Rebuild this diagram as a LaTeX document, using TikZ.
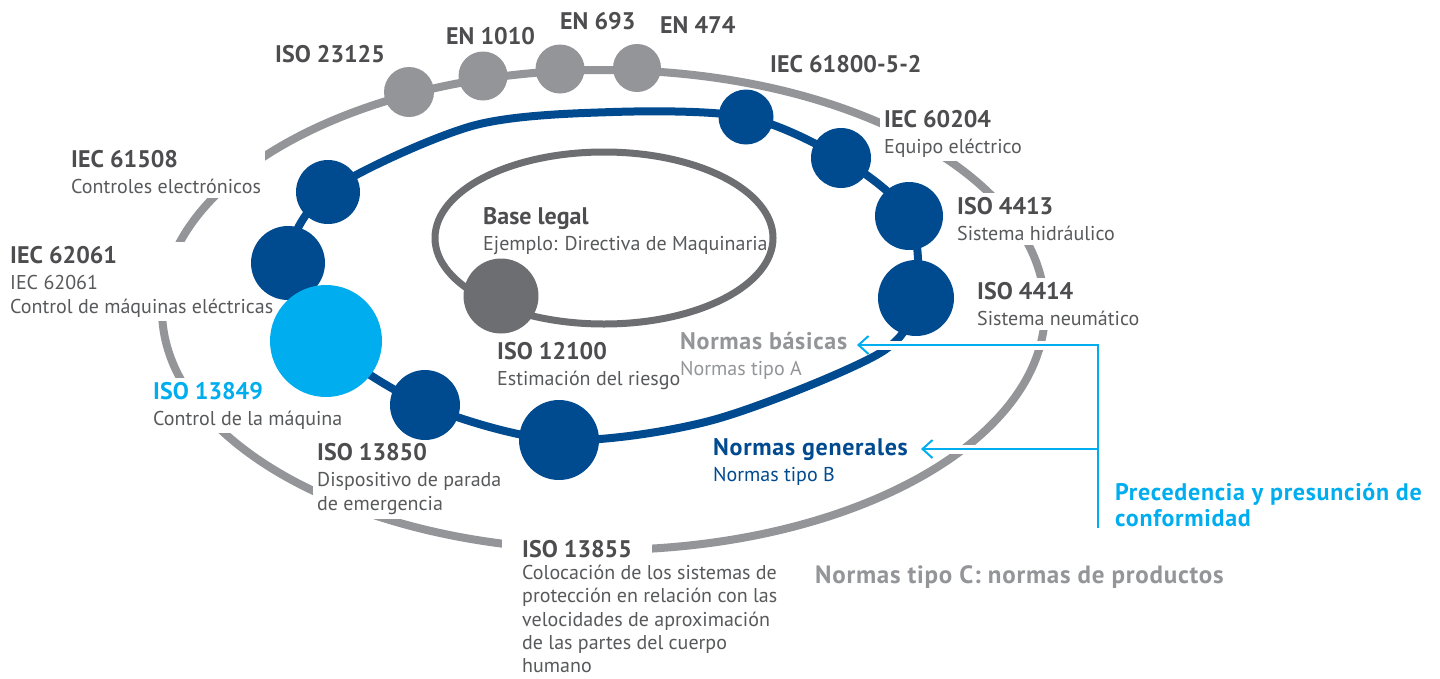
\documentclass[tikz,border=0pt]{standalone}
\usepackage{fontspec}
\setmainfont{PT Sans}
\usetikzlibrary{arrows.meta}
\definecolor{gOut}{HTML}{939598}
\definecolor{gIn}{HTML}{6D6E71}
\definecolor{bl}{HTML}{004A8F}
\definecolor{cy}{HTML}{00AEEF}
\definecolor{txt}{HTML}{4D4D4F}
\definecolor{txtl}{HTML}{58595B}
\newcommand{\ttl}[1]{{\fontsize{24}{24}\selectfont\bfseries #1}}
\begin{document}
\begin{tikzpicture}[x=1pt,y=-1pt,
  lbl/.style={anchor=north west, align=left, inner sep=4pt, fill=white, text=txtl, font=\fontsize{20}{24}\selectfont},
  nofill/.style={fill=none},
  dotg/.style={circle, inner sep=0pt, fill=gOut, minimum size=#1},
  dotb/.style={circle, inner sep=0pt, fill=bl, minimum size=#1},
  dotc/.style={circle, inner sep=0pt, fill=cy, minimum size=#1},
  dotd/.style={circle, inner sep=0pt, fill=gIn, minimum size=#1},
  ring/.style={draw=bl, line width=8pt},
  halo/.style={draw=white, line width=9pt},
  arr/.style={draw=cy, line width=2pt, -{Straight Barb[length=10pt,width=18pt]}},
]
\useasboundingbox (0,0) rectangle (1440,678);
\fill[white] (0,0) rectangle (1440,678);

% outer and inner rings
\draw[gOut, line width=8pt] (603.5,310) ellipse [x radius=441.5, y radius=240];
\draw[gIn, line width=7pt] (604,238) ellipse [x radius=169, y radius=86];

% labels cutting the outer ring
\node[lbl] (l23125) at (271,41) {\color{txt}\ttl{ISO 23125}};
\node[lbl] (l1010) at (442,23) {\color{txt}\ttl{EN 1010}};
\node[lbl] (l693) at (556,8) {\color{txt}\ttl{EN 693}};
\node[lbl] (l474) at (656,12) {\color{txt}\ttl{EN 474}};
\node[lbl] (l61800) at (766,51) {\color{txt}\ttl{IEC 61800-5-2}};
\node[lbl] (l60204) at (880,106) {{\color{txt}\ttl{IEC 60204}}\\[2pt] Equipo eléctrico};
\node[lbl] (l4413) at (953,193) {{\color{txt}\ttl{ISO 4413}}\\[2pt] Sistema hidráulico};
\node[lbl] (l4414) at (973,278) {{\color{txt}\ttl{ISO 4414}}\\[2pt] Sistema neumático};
\node[lbl] (l61508) at (67,146) {{\color{txt}\ttl{IEC 61508}}\\[2pt] Controles electrónicos};
\node[lbl] (l62061) at (6,242) {{\color{txt}\ttl{IEC 62061}}\\[2pt] IEC 62061\\ Control de máquinas eléctricas};
\node[lbl] (l13849) at (149,378) {{\color{cy}\ttl{ISO 13849}}\\[2pt] Control de la máquina};
\node[lbl] (l13850) at (313,439) {{\color{txt}\ttl{ISO 13850}}\\[2pt] Dispositivo de parada\\ de emergencia};
\node[lbl, inner xsep=20pt] (l13855) at (502,536) {\color{txt}\ttl{ISO 13855}};
\node[lbl, nofill, inner sep=0pt, font=\fontsize{20}{23.3}\selectfont] (d13855) at (522,565) {Colocación de los sistemas de\\ protección en relación con las\\ velocidades de aproximación\\ de las partes del cuerpo\\ humano};
\node[lbl, nofill] (l12100) at (493,338) {{\color{txt}\ttl{ISO 12100}}\\[2pt] Estimación del riesgo};
\node[lbl, nofill] (lbase) at (479,203) {{\color{txt}\ttl{Base legal}}\\[2pt] Ejemplo: Directiva de Maquinaria};
\node[lbl, nofill, text=gOut] (lnb) at (676,328) {{\fontsize{24}{24}\selectfont\bfseries\addfontfeature{LetterSpace=3}Normas básicas}\\[2pt] Normas tipo A};
\node[lbl, nofill, text=bl] (lng) at (709,434) {{\fontsize{24}{24}\selectfont\bfseries\addfontfeature{LetterSpace=3}Normas generales}\\[2pt] Normas tipo B};
\node[lbl, nofill, text=gOut] (lC) at (811,561) {{\fontsize{25}{24}\selectfont\bfseries\addfontfeature{LetterSpace=3}Normas tipo C: normas de productos}};
\node[lbl, nofill, text=cy, font=\fontsize{24}{26}\selectfont\bfseries\addfontfeature{LetterSpace=3}] (lprec) at (1111,479) {Precedencia y presunción de\\ conformidad};

% gray circles on the outer ring
\node[dotg=50] (c23125) at (409,92) {};
\node[dotg=49] (c1010) at (483,76) {};
\node[dotg=49] (c693) at (560,69) {};
\node[dotg=48] (c474) at (637,68) {};

% dark gray circle on inner ring
\node[dotd=75] (c12100) at (501,296) {};

% blue ring
\coordinate (p61508) at (328,192);
\coordinate (p62061) at (288,263);
\coordinate (p13849) at (326,341);
\coordinate (p13850) at (425,405);
\coordinate (pbig) at (559,440);
\coordinate (p61800) at (746,117);
\coordinate (p60204) at (841,158);
\coordinate (p4413) at (909,216);
\coordinate (p4414) at (916,298);
\coordinate (b1) at (472,126);
\coordinate (b2) at (613,112);
\coordinate (b3) at (880,353);
\coordinate (b4) at (713,420);
\draw[ring] plot[smooth cycle] coordinates {(p62061) (p61508) (b1) (b2) (p61800) (p60204) (p4413) (p4414) (b3) (b4) (pbig) (p13850) (p13849)};

\node[dotb=64] (c61508) at (p61508) {};
\node[dotb=74] (c62061) at (p62061) {};
\node[dotc=112] (c13849) at (p13849) {};
\node[dotb=70] (c13850) at (p13850) {};
\node[dotb=80] (cbig) at (pbig) {};
\node[dotb=55] (c61800) at (p61800) {};
\node[dotb=60] (c60204) at (p60204) {};
\node[dotb=68] (c4413) at (p4413) {};
\node[dotb=76] (c4414) at (p4414) {};

% precedence arrows
\coordinate (abot) at (1098,528);
\coordinate (acorner) at (1098,345);
\coordinate (ajoin) at (1098,449);
\coordinate (tipA) at (857,345);
\coordinate (tipB) at (921,449);
\draw[halo] (abot) -- (acorner) -- (tipA);
\draw[halo] (ajoin) -- (tipB);
\draw[arr] (abot) -- (acorner) -- (tipA);
\draw[arr] (ajoin) -- (tipB);
\end{tikzpicture}
\end{document}
